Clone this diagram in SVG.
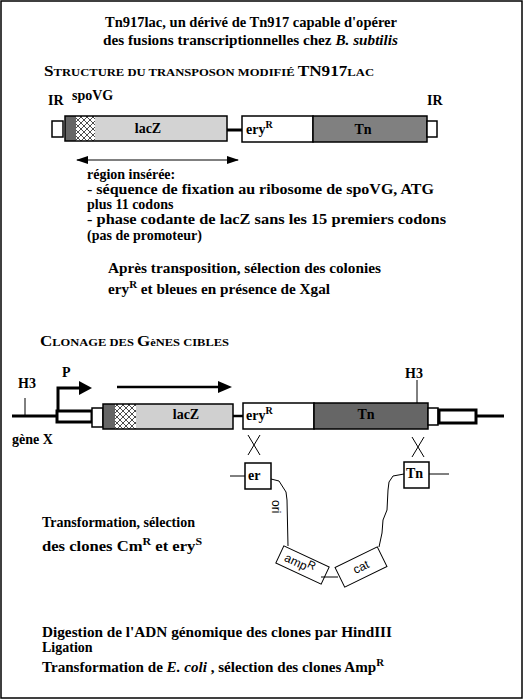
<svg xmlns="http://www.w3.org/2000/svg" width="526" height="700" viewBox="0 0 526 700">
<defs>
<pattern id="hatch" patternUnits="userSpaceOnUse" width="6" height="6">
<rect width="6" height="6" fill="#fff"/>
<path d="M0,6 L6,0 M-1,1 L1,-1 M5,7 L7,5" stroke="#000" stroke-width="0.7"/>
<path d="M0,0 L6,6 M-1,5 L1,7 M5,-1 L7,1" stroke="#000" stroke-width="0.7"/>
</pattern>
</defs>
<style>
text{font-family:"Liberation Serif","DejaVu Serif",serif}
.t{font-weight:bold;font-size:14px;fill:#000}
.it{font-style:italic}
.sup{font-size:10px}
.box{stroke:#000;stroke-width:1.5}
.sans{font-family:"Liberation Sans",Arial,sans-serif;font-size:12px;fill:#000;font-weight:normal}
.ln{stroke:#000;fill:none}
.big{font-size:15px}
.sm{font-size:11px}
</style>
<rect x="1" y="1" width="521" height="697" fill="#fff" stroke="#000" stroke-width="1.5"/>

<g id="title">
<text class="t" x="105" y="27" textLength="292" lengthAdjust="spacingAndGlyphs">Tn917lac, un dérivé de Tn917 capable d'opérer</text>
<text class="t" x="103" y="45" textLength="295" lengthAdjust="spacingAndGlyphs">des fusions transcriptionnelles chez <tspan class="it">B. subtilis</tspan></text>
</g>

<g id="heading-structure">
<text class="t" x="44" y="76" textLength="330" lengthAdjust="spacingAndGlyphs"><tspan class="big">S</tspan><tspan class="sm">TRUCTURE DU TRANSPOSON MODIFIÉ </tspan><tspan class="big">TN917</tspan><tspan class="sm">LAC</tspan></text>
</g>

<g id="transposon">
<g id="ir-left"><rect class="box" x="52" y="121" width="11" height="16" fill="#fff"/><text class="t" x="48" y="105">IR</text></g>
<g id="spovg"><rect x="65" y="116" width="11" height="25" fill="#666"/><rect x="76" y="116" width="19" height="25" fill="url(#hatch)"/><text class="t" x="72" y="100">spoVG</text></g>
<g id="lacz1"><rect x="95" y="116" width="132" height="25" fill="#d3d3d3"/><rect class="box" x="65" y="116" width="162" height="25" fill="none"/><text class="t" x="148" y="133" text-anchor="middle">lacZ</text></g>
<g id="ery1"><rect class="box" x="242" y="116" width="71" height="26" fill="#fff"/><text class="t" x="246" y="134">ery<tspan class="sup" dy="-6">R</tspan></text></g>
<g id="tn1"><rect class="box" x="313" y="116" width="114" height="26" fill="#808080"/><text class="t" x="363" y="134" text-anchor="middle">Tn</text></g>
<g id="ir-right"><rect class="box" x="427" y="121" width="10" height="16" fill="#fff"/><text class="t" x="427" y="105">IR</text></g>
</g>

<g id="notes1">
<text class="t" x="87" y="179">région insérée:</text>
<text class="t" x="87" y="194" textLength="347" lengthAdjust="spacingAndGlyphs">- séquence de fixation au ribosome de spoVG, ATG</text>
<text class="t" x="87" y="209">plus 11 codons</text>
<text class="t" x="87" y="224" textLength="359" lengthAdjust="spacingAndGlyphs">- phase codante de lacZ sans les 15 premiers codons</text>
<text class="t" x="87" y="240">(pas de promoteur)</text>
<text class="t" x="108" y="273" textLength="273" lengthAdjust="spacingAndGlyphs">Après transposition, sélection des colonies</text>
<text class="t" x="108" y="294" textLength="222" lengthAdjust="spacingAndGlyphs">ery<tspan class="sup" dy="-6">R</tspan><tspan dy="6"> et bleues en présence de Xgal</tspan></text>
</g>

<g id="heading-clonage">
<text class="t" x="40" y="346" textLength="189" lengthAdjust="spacingAndGlyphs"><tspan class="big">C</tspan><tspan class="sm">LONAGE DES </tspan><tspan class="big">G</tspan><tspan class="sm">èNES CIBLES</tspan></text>
</g>

<g id="chromosome">
<g id="h3-left"><text class="t" x="18" y="388">H3</text></g>
<g id="promoter"><text class="t" x="62" y="377">P</text></g>
<g id="genex"><rect x="57" y="411" width="35" height="11" fill="#fff" stroke="#000" stroke-width="3"/><text class="t" x="12" y="444">gène X</text></g>
<g id="ir-left2"><rect class="box" x="92" y="408" width="11" height="19" fill="#fff"/></g>
<g id="spovg2"><rect x="103" y="404" width="12" height="25" fill="#666"/><rect x="115" y="404" width="21" height="25" fill="url(#hatch)"/></g>
<g id="lacz2"><rect x="136" y="404" width="97" height="25" fill="#d0d0d0"/><rect class="box" x="103" y="404" width="130" height="25" fill="none"/><text class="t" x="186" y="419" text-anchor="middle">lacZ</text></g>
<g id="ery2"><rect class="box" x="243" y="403" width="71" height="26" fill="#fff"/><text class="t" x="246" y="420">ery<tspan class="sup" dy="-6">R</tspan></text></g>
<g id="tn2"><rect class="box" x="314" y="403" width="114" height="26" fill="#666"/><text class="t" x="366" y="419" text-anchor="middle">Tn</text></g>
<g id="ir-right2"><rect class="box" x="428" y="408" width="10" height="17" fill="#fff"/></g>
<g id="right-flank"><rect x="439" y="410" width="37" height="13" fill="#fff" stroke="#000" stroke-width="3"/></g>
<g id="h3-right"><text class="t" x="405" y="378">H3</text></g>
</g>

<g id="plasmid">
<g id="er-box"><rect class="box" x="245" y="463" width="26" height="26" fill="#fff" stroke-width="1"/><text class="t" x="248" y="480">er</text></g>
<g id="tn-box"><rect class="box" x="404" y="462" width="25" height="26" fill="#fff" stroke-width="1"/><text class="t" x="406" y="478">Tn</text></g>
<g id="ori"><text class="sans" transform="translate(272,500) rotate(90)">ori</text></g>
<g id="amp" transform="translate(302.5,565) rotate(25)"><rect x="-25" y="-9.5" width="50" height="19" fill="#fff" stroke="#000" stroke-width="1"/><text class="sans" x="-19" y="4">amp<tspan font-size="11" dy="-4">R</tspan></text></g>
<g id="cat" transform="translate(361,567) rotate(-26)"><rect x="-23.5" y="-11" width="47" height="22" fill="#fff" stroke="#000" stroke-width="1"/><text class="sans" x="0" y="4" text-anchor="middle">cat</text></g>
</g>

<g id="connectors">
<line class="ln" x1="77" y1="160" x2="238" y2="160" stroke-width="1"/>
<polygon points="76,160 88,156 88,164" fill="#000"/>
<polygon points="239,160 227,156 227,164" fill="#000"/>
<line class="ln" x1="227" y1="130" x2="242" y2="130" stroke-width="3"/>
<line class="ln" x1="12" y1="416" x2="57" y2="416" stroke-width="3"/>
<line class="ln" x1="25" y1="398" x2="25" y2="416" stroke-width="1"/>
<polyline class="ln" points="58,411 58,388 80,388" stroke-width="3"/>
<polygon points="92,388 79,381 79,395" fill="#000"/>
<line class="ln" x1="117" y1="387" x2="220" y2="387" stroke-width="2.5"/>
<polygon points="232,387 218,381 218,393" fill="#000"/>
<line class="ln" x1="233" y1="416" x2="243" y2="416" stroke-width="2.5"/>
<line class="ln" x1="476" y1="416" x2="504" y2="416" stroke-width="3"/>
<line class="ln" x1="417" y1="380" x2="417" y2="403" stroke-width="1"/>
<path class="ln" d="M248,435 L260,455 M260,435 L248,455" stroke-width="1"/>
<path class="ln" d="M412,437 L424,457 M424,437 L412,457" stroke-width="1"/>
<line class="ln" x1="230" y1="476" x2="245" y2="476" stroke-width="1"/>
<line class="ln" x1="429" y1="474" x2="449" y2="474" stroke-width="1"/>
<polyline class="ln" points="271,479 279,481 286,492 287,500 288,546" stroke-width="1"/>
<polyline class="ln" points="404,474 393,476 389,482 388,490 387,510 383,520 382,533 379,547" stroke-width="1"/>
<line class="ln" x1="321" y1="577" x2="338" y2="577" stroke-width="1"/>
</g>

<g id="notes2">
<text class="t" x="42" y="527">Transformation, sélection</text>
<text class="t" x="42" y="551" textLength="160" lengthAdjust="spacingAndGlyphs">des clones Cm<tspan class="sup" dy="-6">R</tspan><tspan dy="6"> et ery</tspan><tspan class="sup" dy="-6">S</tspan></text>
<text class="t" x="42" y="637" textLength="350" lengthAdjust="spacingAndGlyphs">Digestion de l'ADN génomique des clones par HindIII</text>
<text class="t" x="42" y="652">Ligation</text>
<text class="t" x="42" y="672" textLength="342" lengthAdjust="spacingAndGlyphs">Transformation de <tspan class="it">E. coli</tspan> , sélection des clones Amp<tspan class="sup" dy="-6">R</tspan></text>
</g>
</svg>
